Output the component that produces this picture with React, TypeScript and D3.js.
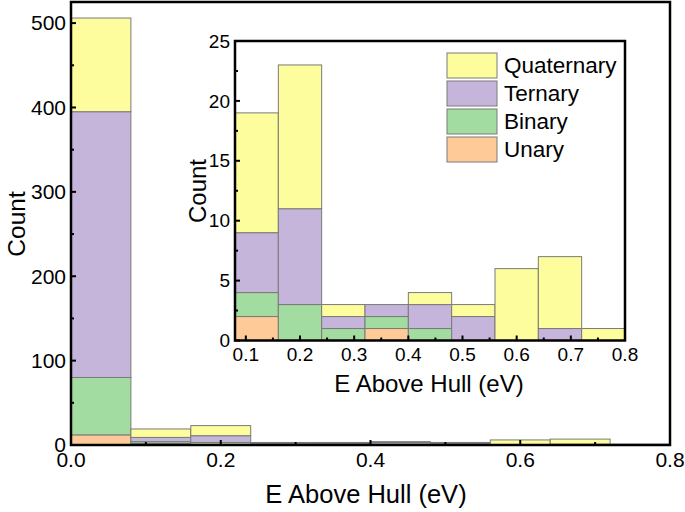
import React from "react";
import * as d3 from "d3";

const seriesNames = ["Unary", "Binary", "Ternary", "Quaternary"];
const seriesColors = ["#FECB98", "#A3DCA0", "#C6B5DB", "#FDFD9E"];
const binStarts = [0.0, 0.08, 0.16, 0.24, 0.32, 0.4, 0.48, 0.56, 0.64, 0.72];
const binWidth = 0.08;
const unary = [12, 2, 0, 0, 1, 0, 0, 0, 0, 0];
const binary = [68, 2, 3, 1, 1, 1, 0, 0, 0, 0];
const ternary = [315, 5, 8, 1, 1, 2, 2, 0, 1, 0];
const quaternary = [111, 10, 12, 1, 0, 1, 1, 6, 6, 1];
const mainXTicks = [0, 0.2, 0.4, 0.6, 0.8];
const mainYTicks = [0, 100, 200, 300, 400, 500];
const insetXTicks = [0.1, 0.2, 0.3, 0.4, 0.5, 0.6, 0.7, 0.8];
const insetYTicks = [0, 5, 10, 15, 20, 25];

const FONT = "Liberation Sans, Arial, sans-serif";

type Rect = { x0: number; x1: number; y0: number; y1: number; c: string };

function stacks(fromBin: number): Rect[] {
  const data = [unary, binary, ternary, quaternary];
  const out: Rect[] = [];
  for (let b = fromBin; b < binStarts.length; b++) {
    let acc = 0;
    data.forEach((s, i) => {
      const v = s[b];
      if (v > 0) {
        out.push({ x0: binStarts[b], x1: binStarts[b] + binWidth, y0: acc, y1: acc + v, c: seriesColors[i] });
      }
      acc += v;
    });
  }
  return out;
}

function Panel(props: {
  x: d3.ScaleLinear<number, number>;
  y: d3.ScaleLinear<number, number>;
  rects: Rect[];
  xTicks: number[];
  xMinor: number[];
  yTicks: number[];
  yMinor: number[];
  xFmt: (v: number) => string;
  tickFont: number;
  white?: boolean;
}) {
  const { x, y, rects, xTicks, xMinor, yTicks, yMinor, xFmt, tickFont } = props;
  const [xl, xr] = x.range();
  const [yb, yt] = y.range();
  return (
    <g>
      {props.white && <rect x={xl} y={yt} width={xr - xl} height={yb - yt} fill="white" />}
      {rects.map((r, i) => (
        <rect
          key={i}
          x={x(r.x0)}
          y={y(r.y1)}
          width={x(r.x1) - x(r.x0)}
          height={y(r.y0) - y(r.y1)}
          fill={r.c}
          stroke="#7a7a7a"
          strokeWidth={1}
        />
      ))}
      {xTicks.map((t) => (
        <g key={"xt" + t}>
          <line x1={x(t)} x2={x(t)} y1={yb} y2={yb - 5} stroke="black" strokeWidth={2} />
          <text x={x(t)} y={yb + 5} dy="0.8em" textAnchor="middle" fontSize={tickFont} fontFamily={FONT}>
            {xFmt(t)}
          </text>
        </g>
      ))}
      {xMinor.map((t) => (
        <line key={"xm" + t} x1={x(t)} x2={x(t)} y1={yb} y2={yb - 3} stroke="black" strokeWidth={2} />
      ))}
      {yTicks.map((t) => (
        <g key={"yt" + t}>
          <line x1={xl} x2={xl + 5} y1={y(t)} y2={y(t)} stroke="black" strokeWidth={2} />
          <text x={xl - 5} y={y(t)} dy="0.35em" textAnchor="end" fontSize={tickFont} fontFamily={FONT}>
            {t}
          </text>
        </g>
      ))}
      {yMinor.map((t) => (
        <line key={"ym" + t} x1={xl} x2={xl + 3} y1={y(t)} y2={y(t)} stroke="black" strokeWidth={2} />
      ))}
      <rect x={xl} y={yt} width={xr - xl} height={yb - yt} fill="none" stroke="black" strokeWidth={2.5} />
    </g>
  );
}

export default function App() {
  const W = 685, H = 512;
  const mx = d3.scaleLinear().domain([0, 0.8]).range([71, 670]);
  const my = d3.scaleLinear().domain([0, 525]).range([445, 2]);
  const ix = d3.scaleLinear().domain([0.08, 0.8]).range([235, 625]);
  const iy = d3.scaleLinear().domain([0, 25]).range([340.5, 41]);

  const legendX = 447, legendY = 53, legendStep = 28;
  const legendOrder = [3, 2, 1, 0];

  return (
    <svg width={W} height={H} style={{ position: "absolute", left: 0, top: 0 }}>
      <rect width={W} height={H} fill="white" />
      <Panel
        x={mx}
        y={my}
        rects={stacks(0)}
        xTicks={mainXTicks}
        xMinor={[0.1, 0.3, 0.5, 0.7]}
        yTicks={mainYTicks}
        yMinor={[50, 150, 250, 350, 450]}
        xFmt={d3.format(".1f")}
        tickFont={21}
      />
      <text x={16} y={224} transform="rotate(-90 16 224)" dy="0.35em" textAnchor="middle" fontSize={24.5} fontFamily={FONT}>
        Count
      </text>
      <text x={366} y={503} textAnchor="middle" fontSize={25.5} fontFamily={FONT}>
        E Above Hull (eV)
      </text>

      <Panel
        x={ix}
        y={iy}
        rects={stacks(1)}
        xTicks={insetXTicks}
        xMinor={[0.15, 0.25, 0.35, 0.45, 0.55, 0.65, 0.75]}
        yTicks={insetYTicks}
        yMinor={[2.5, 7.5, 12.5, 17.5, 22.5]}
        xFmt={d3.format(".1f")}
        tickFont={19}
        white
      />
      <text x={198} y={191} transform="rotate(-90 198 191)" dy="0.35em" textAnchor="middle" fontSize={24} fontFamily={FONT}>
        Count
      </text>
      <text x={429} y={392} textAnchor="middle" fontSize={24} fontFamily={FONT}>
        E Above Hull (eV)
      </text>

      {legendOrder.map((si, k) => (
        <g key={si}>
          <rect x={legendX} y={legendY + k * legendStep} width={50} height={25} fill={seriesColors[si]} stroke="#7a7a7a" strokeWidth={1} />
          <text x={legendX + 57} y={legendY + k * legendStep + 12.5} dy="0.35em" fontSize={22.5} fontFamily={FONT}>
            {seriesNames[si]}
          </text>
        </g>
      ))}
    </svg>
  );
}
